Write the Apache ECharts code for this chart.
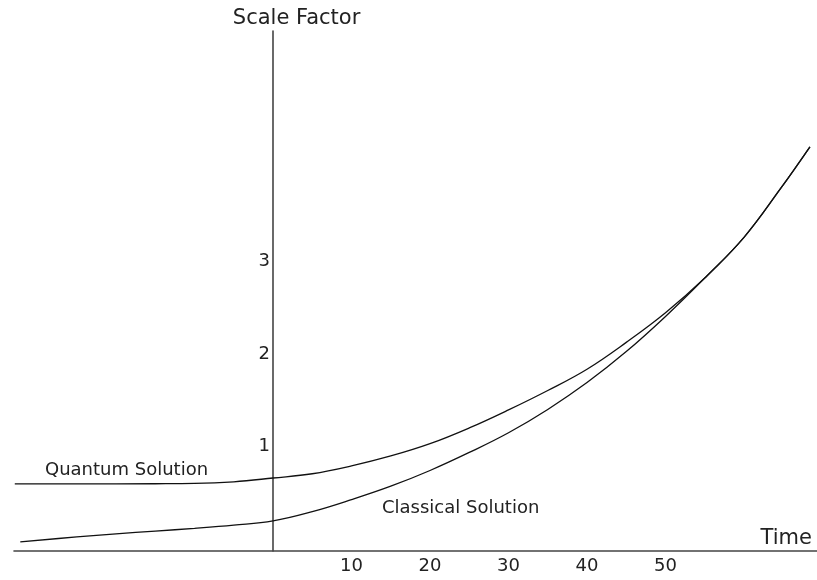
<!DOCTYPE html>
<html>
<head>
<meta charset="utf-8">
<script src="https://cdn.jsdelivr.net/npm/echarts@6/dist/echarts.min.js"></script>
<style>html,body{margin:0;padding:0;background:#fff}#c{width:817px;height:580px}</style>
</head>
<body>
<div id="c"></div>
<script>
var xTickLabels = [10, 20, 30, 40, 50];
var yTickLabels = [1, 2, 3];
var quantumT = [-32.9, -25, -15, -10, -5, 0, 5, 10, 15, 20, 25, 30, 35, 40, 45, 50, 55, 60, 64.6, 68.4];
var quantumV = [0.595, 0.595, 0.597, 0.600, 0.618, 0.659, 0.705, 0.790, 0.897, 1.030, 1.200, 1.395, 1.605, 1.835, 2.125, 2.445, 2.820, 3.260, 3.780, 4.238];
var classicalT = [-32.2, -25, -20, -15, -10, -5, 0, 5, 10, 15, 20, 25, 30, 35, 40, 45, 50, 55, 60, 64.6, 68.4];
var classicalV = [-0.032, 0.022, 0.055, 0.085, 0.115, 0.150, 0.195, 0.295, 0.425, 0.570, 0.740, 0.935, 1.148, 1.400, 1.690, 2.025, 2.405, 2.820, 3.260, 3.780, 4.238];

function pairs(t, v) { return t.map(function (x, i) { return [x, v[i]]; }); }

var chart = echarts.init(document.getElementById('c'));
var font = 'DejaVu Sans';
chart.setOption({
  animation: false,
  backgroundColor: '#fff',
  grid: { left: 14, right: 0, top: 31, bottom: 29, containLabel: false, outerBoundsMode: 'none' },
  xAxis: {
    type: 'value', min: -33, max: 69.3,
    name: 'Time', nameLocation: 'end', nameGap: -5,
    nameTextStyle: { fontFamily: font, fontSize: 21, color: '#222', align: 'right', verticalAlign: 'bottom', padding: [0, 0, 2, 0] },
    axisLine: { onZero: false, lineStyle: { color: '#444', width: 1.6 } },
    axisTick: { show: false },
    splitLine: { show: false },
    axisLabel: { customValues: xTickLabels, fontFamily: font, fontSize: 18, color: '#222', margin: 6 }
  },
  yAxis: {
    type: 'value', min: -0.13, max: 5.49,
    name: 'Scale Factor', nameLocation: 'end', nameGap: 2,
    nameTextStyle: { fontFamily: font, fontSize: 21, color: '#222', align: 'center', padding: [0, 0, 0, 47] },
    axisLine: { onZero: true, lineStyle: { color: '#444', width: 1.6 } },
    axisTick: { show: false },
    splitLine: { show: false },
    axisLabel: { customValues: yTickLabels, fontFamily: font, fontSize: 18, color: '#222', margin: -256 }
  },
  series: [
    { name: 'Quantum Solution', type: 'line', smooth: 0.4, symbol: 'none', data: pairs(quantumT, quantumV), lineStyle: { color: '#111', width: 1.3 } },
    { name: 'Classical Solution', type: 'line', smooth: 0.4, symbol: 'none', data: pairs(classicalT, classicalV), lineStyle: { color: '#111', width: 1.3 } }
  ],
  graphic: [
    { type: 'text', left: 45, top: 461, style: { text: 'Quantum Solution', font: '18px "DejaVu Sans"', fill: '#222' } },
    { type: 'text', left: 382, top: 499, style: { text: 'Classical Solution', font: '18px "DejaVu Sans"', fill: '#222' } }
  ]
});
</script>
</body>
</html>
